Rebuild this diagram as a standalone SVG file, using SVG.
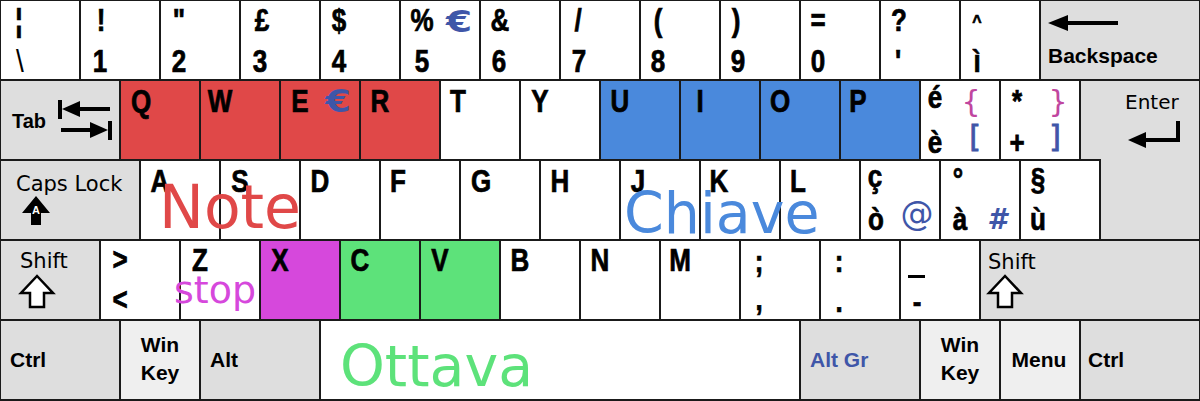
<svg xmlns="http://www.w3.org/2000/svg" width="1200" height="401" viewBox="0 0 1200 401">
<style>
.k{stroke:#1a1a1a;stroke-width:2}
.w{fill:#ffffff}.g{fill:#dedede}.lg{fill:#efefef}
.r{fill:#e04848}.b{fill:#4a89dc}.gn{fill:#5de27a}.m{fill:#d648dc}
.t{font-family:"Liberation Sans",Arial,sans-serif;font-weight:bold;font-size:26px;text-anchor:middle;fill:#000;stroke:#000;stroke-width:0.6}
.tr{font-family:"Liberation Sans",Arial,sans-serif;font-size:28px;text-anchor:middle;fill:#000}
.dj{font-family:"DejaVu Sans",sans-serif;font-size:30px;text-anchor:middle}
.djb{font-family:"DejaVu Sans",sans-serif;font-weight:bold;font-size:30px;text-anchor:middle}
.s{font-family:"Liberation Sans",Arial,sans-serif;font-weight:bold;font-size:21px;fill:#000}
.sc{font-family:"Liberation Sans",Arial,sans-serif;font-weight:bold;font-size:21px;fill:#000;text-anchor:middle}
.d{font-family:"DejaVu Sans",sans-serif;font-size:21px;fill:#000}
.big{font-family:"DejaVu Sans",sans-serif}
.ag{fill:#3f56a8;stroke:#3f56a8}
.pk{fill:#c0469f}
</style>

<!-- Row 1 -->
<g id="key-backslash"><rect class="k w" x="0" y="0" width="80" height="80"/><text class="t" transform="matrix(1 0 0 1.2 19 31)">¦</text><text class="tr" transform="matrix(1 0 0 1.1 20 72)">\</text></g>
<g id="key-1"><rect class="k w" x="80" y="0" width="80" height="80"/><text class="t" transform="matrix(1 0 0 1.2 101 31)">!</text><text class="t" transform="matrix(1 0 0 1.2 100 72)">1</text></g>
<g id="key-2"><rect class="k w" x="160" y="0" width="80" height="80"/><text class="t" transform="matrix(1 0 0 1.2 179 31)">"</text><text class="t" transform="matrix(1 0 0 1.2 179 72)">2</text></g>
<g id="key-3"><rect class="k w" x="240" y="0" width="80" height="80"/><text class="t" transform="matrix(1 0 0 1.2 262 31)">£</text><text class="t" transform="matrix(1 0 0 1.2 260 72)">3</text></g>
<g id="key-4"><rect class="k w" x="320" y="0" width="80" height="80"/><text class="t" transform="matrix(1 0 0 1.2 339 31)">$</text><text class="t" transform="matrix(1 0 0 1.2 339 72)">4</text></g>
<g id="key-5"><rect class="k w" x="400" y="0" width="80" height="80"/><text class="t" transform="matrix(1 0 0 1.2 422 31)">%</text><text class="djb ag" style="stroke:none" transform="matrix(1.25 0 0 1 459 32)">€</text><text class="t" transform="matrix(1 0 0 1.2 422 72)">5</text></g>
<g id="key-6"><rect class="k w" x="480" y="0" width="80" height="80"/><text class="t" transform="matrix(1 0 0 1.2 500 31)">&amp;</text><text class="t" transform="matrix(1 0 0 1.2 499 72)">6</text></g>
<g id="key-7"><rect class="k w" x="560" y="0" width="80" height="80"/><text class="t" transform="matrix(1 0 0 1.2 578 31)">/</text><text class="t" transform="matrix(1 0 0 1.2 579 72)">7</text></g>
<g id="key-8"><rect class="k w" x="640" y="0" width="80" height="80"/><text class="t" transform="matrix(1 0 0 1.2 658 31)">(</text><text class="t" transform="matrix(1 0 0 1.2 658 72)">8</text></g>
<g id="key-9"><rect class="k w" x="720" y="0" width="80" height="80"/><text class="t" transform="matrix(1 0 0 1.2 736 31)">)</text><text class="t" transform="matrix(1 0 0 1.2 738 72)">9</text></g>
<g id="key-0"><rect class="k w" x="800" y="0" width="80" height="80"/><text class="t" transform="matrix(1 0 0 1.2 818 31)">=</text><text class="t" transform="matrix(1 0 0 1.2 818 72)">0</text></g>
<g id="key-apos"><rect class="k w" x="880" y="0" width="80" height="80"/><text class="t" transform="matrix(1 0 0 1.2 899 31)">?</text><text class="t" transform="matrix(1 0 0 1.2 898 72)">'</text></g>
<g id="key-igrave"><rect class="k w" x="960" y="0" width="80" height="80"/><text class="t" style="font-size:16px" transform="matrix(1 0 0 1.2 977 28)">^</text><text class="t" transform="matrix(1 0 0 1.2 977 72)">ì</text></g>
<g id="key-backspace"><rect class="k g" x="1040" y="0" width="160" height="80"/><line x1="1064" y1="23" x2="1118" y2="23" stroke="#000" stroke-width="4"/><polygon points="1048,23 1068,15 1068,31" fill="#000"/><text class="s" x="1048" y="63">Backspace</text></g>

<!-- Row 2 -->
<g id="key-tab"><rect class="k g" x="0" y="80" width="120" height="80"/><text class="s" x="12" y="128" style="font-size:20px">Tab</text>
<rect x="58" y="100" width="4" height="19" fill="#000"/><polygon points="62,109 80,101 80,117" fill="#000"/><rect x="78" y="107" width="32" height="4" fill="#000"/>
<rect x="61" y="128" width="32" height="4" fill="#000"/><polygon points="108,130 90,122 90,138" fill="#000"/><rect x="108" y="121" width="4" height="19" fill="#000"/></g>
<g id="key-q"><rect class="k r" x="120" y="80" width="80" height="80"/><text class="t" transform="matrix(1 0 0 1.2 141 112)">Q</text></g>
<g id="key-w"><rect class="k r" x="200" y="80" width="80" height="80"/><text class="t" transform="matrix(1 0 0 1.2 220 112)">W</text></g>
<g id="key-e"><rect class="k r" x="280" y="80" width="80" height="80"/><text class="t" transform="matrix(1 0 0 1.2 300 112)">E</text><text class="djb ag" style="stroke:none;font-size:32px" transform="matrix(1.15 0 0 1 338 112)">€</text></g>
<g id="key-r"><rect class="k r" x="360" y="80" width="80" height="80"/><text class="t" transform="matrix(1 0 0 1.2 380 112)">R</text></g>
<g id="key-t"><rect class="k w" x="440" y="80" width="80" height="80"/><text class="t" transform="matrix(1 0 0 1.2 458 112)">T</text></g>
<g id="key-y"><rect class="k w" x="520" y="80" width="80" height="80"/><text class="t" transform="matrix(1 0 0 1.2 540 112)">Y</text></g>
<g id="key-u"><rect class="k b" x="600" y="80" width="80" height="80"/><text class="t" transform="matrix(1 0 0 1.2 620 112)">U</text></g>
<g id="key-i"><rect class="k b" x="680" y="80" width="80" height="80"/><text class="t" transform="matrix(1 0 0 1.2 700 112)">I</text></g>
<g id="key-o"><rect class="k b" x="760" y="80" width="80" height="80"/><text class="t" transform="matrix(1 0 0 1.2 780 112)">O</text></g>
<g id="key-p"><rect class="k b" x="840" y="80" width="80" height="80"/><text class="t" transform="matrix(1 0 0 1.2 858 112)">P</text></g>
<g id="key-egrave"><rect class="k w" x="920" y="80" width="80" height="80"/><text class="t" transform="matrix(1 0 0 1.2 935 108)">é</text><text class="t" transform="matrix(1 0 0 1.2 935 153)">è</text><text class="dj pk" x="971" y="112">{</text><text class="dj ag" style="stroke:#3f56a8;stroke-width:0.8" x="975" y="147">[</text></g>
<g id="key-plus"><rect class="k w" x="1000" y="80" width="80" height="80"/><text class="t" transform="matrix(1 0 0 1.2 1017 112)">*</text><text class="t" transform="matrix(1 0 0 1.2 1017 153)">+</text><text class="dj pk" x="1058" y="112">}</text><text class="dj ag" style="stroke:#3f56a8;stroke-width:0.8" x="1055" y="147">]</text></g>
<g id="key-enter"><path class="k g" d="M1080,80 H1200 V240 H1100 V160 H1080 Z"/><text class="d" x="1125" y="109" style="font-size:20px">Enter</text>
<rect x="1176" y="121" width="4" height="21" fill="#000"/><rect x="1143" y="138" width="37" height="4" fill="#000"/><polygon points="1128,140 1146,132 1146,148" fill="#000"/></g>

<!-- Row 3 -->
<g id="key-capslock"><rect class="k g" x="0" y="160" width="140" height="80"/><text class="d" x="16" y="191">Caps Lock</text>
<polygon points="36,196 22,213 31,213 31,225 41,225 41,213 50,213" fill="#000"/><text x="36" y="214" font-family="Liberation Sans,Arial,sans-serif" font-weight="bold" font-size="11" fill="#fff" text-anchor="middle">A</text></g>
<g id="key-a"><rect class="k w" x="140" y="160" width="80" height="80"/><text class="t" transform="matrix(1 0 0 1.2 160 192)">A</text></g>
<g id="key-s"><rect class="k w" x="220" y="160" width="80" height="80"/><text class="t" transform="matrix(1 0 0 1.2 240 192)">S</text></g>
<g id="key-d"><rect class="k w" x="300" y="160" width="80" height="80"/><text class="t" transform="matrix(1 0 0 1.2 320 192)">D</text></g>
<g id="key-f"><rect class="k w" x="380" y="160" width="80" height="80"/><text class="t" transform="matrix(1 0 0 1.2 398 192)">F</text></g>
<g id="key-g"><rect class="k w" x="460" y="160" width="80" height="80"/><text class="t" transform="matrix(1 0 0 1.2 481 192)">G</text></g>
<g id="key-h"><rect class="k w" x="540" y="160" width="80" height="80"/><text class="t" transform="matrix(1 0 0 1.2 560 192)">H</text></g>
<g id="key-j"><rect class="k w" x="620" y="160" width="80" height="80"/><text class="t" transform="matrix(1 0 0 1.2 638 192)">J</text></g>
<g id="key-k"><rect class="k w" x="700" y="160" width="80" height="80"/><text class="t" transform="matrix(1 0 0 1.2 719 192)">K</text></g>
<g id="key-l"><rect class="k w" x="780" y="160" width="80" height="80"/><text class="t" transform="matrix(1 0 0 1.2 798 192)">L</text></g>
<g id="key-ograve"><rect class="k w" x="860" y="160" width="80" height="80"/><text class="t" transform="matrix(1 0 0 1.2 875 187)">ç</text><text class="t" transform="matrix(1 0 0 1.2 876 230)">ò</text><text class="dj ag" style="stroke:none;font-size:33px" x="917" y="225">@</text></g>
<g id="key-agrave"><rect class="k w" x="940" y="160" width="80" height="80"/><text class="t" transform="matrix(1 0 0 1.2 958 190)">°</text><text class="t" transform="matrix(1 0 0 1.2 960 230)">à</text><text class="djb ag" style="stroke:none;font-style:italic;font-size:28px" x="997" y="229">#</text></g>
<g id="key-ugrave"><rect class="k w" x="1020" y="160" width="80" height="80"/><text class="t" transform="matrix(1 0 0 1.2 1038 190)">§</text><text class="t" transform="matrix(1 0 0 1.2 1038 230)">ù</text></g>

<!-- Row 4 -->
<g id="key-lshift"><rect class="k g" x="0" y="240" width="100" height="80"/><text class="d" x="20" y="268">Shift</text><polygon points="37,276 21,293 30,293 30,307 44,307 44,293 53,293" fill="#fff" stroke="#000" stroke-width="2.5"/></g>
<g id="key-less"><rect class="k w" x="100" y="240" width="80" height="80"/><text class="t" transform="matrix(1 0 0 1.2 120 270)">&gt;</text><text class="t" transform="matrix(1 0 0 1.2 120 310)">&lt;</text></g>
<g id="key-z"><rect class="k w" x="180" y="240" width="80" height="80"/><text class="t" transform="matrix(1 0 0 1.2 200 271)">Z</text></g>
<g id="key-x"><rect class="k m" x="260" y="240" width="80" height="80"/><text class="t" transform="matrix(1 0 0 1.2 280 271)">X</text></g>
<g id="key-c"><rect class="k gn" x="340" y="240" width="80" height="80"/><text class="t" transform="matrix(1 0 0 1.2 360 271)">C</text></g>
<g id="key-v"><rect class="k gn" x="420" y="240" width="80" height="80"/><text class="t" transform="matrix(1 0 0 1.2 440 271)">V</text></g>
<g id="key-b"><rect class="k w" x="500" y="240" width="80" height="80"/><text class="t" transform="matrix(1 0 0 1.2 520 271)">B</text></g>
<g id="key-n"><rect class="k w" x="580" y="240" width="80" height="80"/><text class="t" transform="matrix(1 0 0 1.2 600 271)">N</text></g>
<g id="key-m"><rect class="k w" x="660" y="240" width="80" height="80"/><text class="t" transform="matrix(1 0 0 1.2 680 271)">M</text></g>
<g id="key-comma"><rect class="k w" x="740" y="240" width="80" height="80"/><text class="t" transform="matrix(1 0 0 1.2 759 272)">;</text><text class="t" transform="matrix(1 0 0 1.2 759 310)">,</text></g>
<g id="key-period"><rect class="k w" x="820" y="240" width="80" height="80"/><text class="t" transform="matrix(1 0 0 1.2 839 272)">:</text><text class="t" transform="matrix(1 0 0 1.2 839 312)">.</text></g>
<g id="key-minus"><rect class="k w" x="900" y="240" width="80" height="80"/><rect x="908" y="275" width="17" height="3" fill="#000"/><text class="t" transform="matrix(1 0 0 1.2 917 312)">-</text></g>
<g id="key-rshift"><rect class="k g" x="980" y="240" width="220" height="80"/><text class="d" x="988" y="269">Shift</text><polygon points="1005,276 989,293 998,293 998,307 1012,307 1012,293 1021,293" fill="#fff" stroke="#000" stroke-width="2.5"/></g>

<!-- Row 5 -->
<g id="key-lctrl"><rect class="k g" x="0" y="320" width="120" height="80"/><text class="s" x="10" y="367">Ctrl</text></g>
<g id="key-lwin"><rect class="k lg" x="120" y="320" width="80" height="80"/><text class="sc" x="160" y="352">Win</text><text class="sc" x="160" y="380">Key</text></g>
<g id="key-alt"><rect class="k g" x="200" y="320" width="120" height="80"/><text class="s" x="210" y="367">Alt</text></g>
<g id="key-space"><rect class="k w" x="320" y="320" width="480" height="80"/></g>
<g id="key-altgr"><rect class="k g" x="800" y="320" width="120" height="80"/><text class="s" style="fill:#3f56a8" x="810" y="367">Alt Gr</text></g>
<g id="key-rwin"><rect class="k lg" x="920" y="320" width="80" height="80"/><text class="sc" x="960" y="352">Win</text><text class="sc" x="960" y="380">Key</text></g>
<g id="key-menu"><rect class="k lg" x="1000" y="320" width="80" height="80"/><text class="sc" x="1039" y="367">Menu</text></g>
<g id="key-rctrl"><rect class="k g" x="1080" y="320" width="120" height="80"/><text class="s" x="1088" y="367">Ctrl</text></g>

<!-- Overlay labels -->
<g id="labels">
<text class="big" x="159" y="228" style="font-size:60px;fill:#e04848">Note</text>
<text class="big" x="624" y="233" style="font-size:57px;fill:#4a89dc">Chiave</text>
<text class="big" x="340" y="386" style="font-size:57px;fill:#5de27a">Ottava</text>
<text class="big" x="174" y="303" style="font-size:38px;fill:#d648dc">stop</text>
</g>
</svg>
